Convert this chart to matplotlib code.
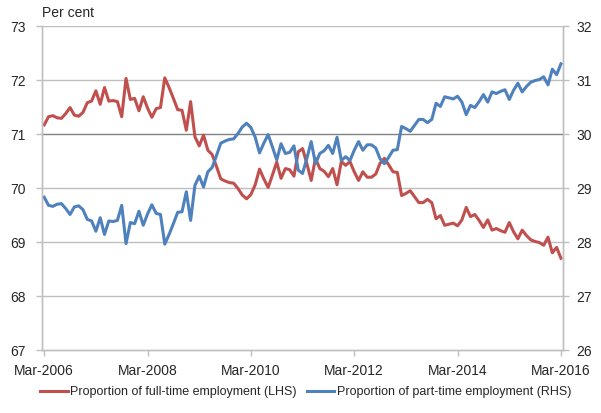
import numpy as np
import matplotlib
matplotlib.use("Agg")
import matplotlib.pyplot as plt

# monthly series, Mar-2006 .. Mar-2016
full_time = [
    71.17, 71.32, 71.34, 71.30, 71.29, 71.38, 71.49, 71.35, 71.33, 71.40,
    71.58, 71.61, 71.80, 71.55, 71.86, 71.61, 71.62, 71.60, 71.32, 72.03,
    71.64, 71.66, 71.43, 71.69, 71.48, 71.31, 71.47, 71.49, 72.04, 71.86,
    71.66, 71.45, 71.44, 71.07, 71.60, 70.95, 70.78, 70.98, 70.70, 70.62,
    70.40, 70.17, 70.13, 70.10, 70.09, 69.99, 69.87, 69.80, 69.88, 70.06,
    70.35, 70.17, 70.01, 70.24, 70.48, 70.18, 70.36, 70.34, 70.22, 70.67,
    70.73, 70.45, 70.14, 70.55, 70.36, 70.31, 70.21, 70.36, 70.06, 70.49,
    70.42, 70.49, 70.30, 70.14, 70.30, 70.20, 70.20, 70.26, 70.46, 70.55,
    70.43, 70.30, 70.29, 69.86, 69.90, 69.95, 69.84, 69.73, 69.73, 69.79,
    69.73, 69.43, 69.49, 69.31, 69.33, 69.35, 69.30, 69.41, 69.64, 69.47,
    69.51, 69.40, 69.27, 69.41, 69.22, 69.25, 69.21, 69.18, 69.36, 69.19,
    69.06, 69.22, 69.12, 69.04, 69.01, 68.99, 68.94, 69.09, 68.80, 68.90,
    68.70,
]
part_time = [
    28.83, 28.68, 28.66, 28.70, 28.71, 28.62, 28.51, 28.65, 28.67, 28.60,
    28.42, 28.39, 28.20, 28.45, 28.14, 28.39, 28.38, 28.40, 28.68, 27.97,
    28.36, 28.34, 28.57, 28.31, 28.52, 28.69, 28.53, 28.51, 27.96, 28.14,
    28.34, 28.55, 28.56, 28.93, 28.40, 29.05, 29.22, 29.02, 29.30, 29.38,
    29.60, 29.83, 29.87, 29.90, 29.91, 30.01, 30.13, 30.20, 30.12, 29.94,
    29.65, 29.83, 29.99, 29.76, 29.52, 29.82, 29.64, 29.66, 29.78, 29.33,
    29.27, 29.55, 29.86, 29.45, 29.64, 29.69, 29.79, 29.64, 29.94, 29.51,
    29.58, 29.51, 29.70, 29.86, 29.70, 29.80, 29.80, 29.74, 29.54, 29.45,
    29.57, 29.70, 29.71, 30.14, 30.10, 30.05, 30.16, 30.27, 30.27, 30.21,
    30.27, 30.57, 30.51, 30.69, 30.67, 30.65, 30.70, 30.59, 30.36, 30.53,
    30.49, 30.60, 30.73, 30.59, 30.78, 30.75, 30.79, 30.82, 30.64, 30.81,
    30.94, 30.78, 30.88, 30.96, 30.99, 31.01, 31.06, 30.91, 31.20, 31.10,
    31.30,
]
tick_labels = ["Mar-2006", "Mar-2008", "Mar-2010", "Mar-2012", "Mar-2014", "Mar-2016"]

plt.rcParams['font.family'] = ['Liberation Sans', 'DejaVu Sans']
plt.rcParams['font.size'] = 10

red = "#C0504D"
blue = "#4F81BD"
grid_c = "#BFBFBF"
txt = "#262626"

fig = plt.figure(figsize=(6.01, 4.13), dpi=100)
ax = fig.add_axes([0.0707, 0.1525, 0.8655, 0.7845])
ax2 = ax.twinx()

x = np.arange(len(full_time))
l1, = ax.plot(x, full_time, color=red, lw=2.2, label="Proportion of full-time employment (LHS)")
l2, = ax2.plot(x, part_time, color=blue, lw=2.2, label="Proportion of part-time employment (RHS)")

ax.set_xlim(-0.4, 120.4)
ax.set_ylim(67, 73)
ax2.set_ylim(26, 32)
ax.set_yticks(range(67, 74))
ax2.set_yticks(range(26, 33))
ax.set_xticks(np.arange(0, 121, 24))
ax.set_xticklabels(tick_labels)

for v in range(68, 74):
    ax.axhline(v, color="#808080" if v == 71 else grid_c, lw=1.0, zorder=0)

for a in (ax, ax2):
    for s in a.spines.values():
        s.set_color(grid_c)
        s.set_linewidth(1.0)
    a.spines['top'].set_visible(False)
    a.tick_params(colors=grid_c, labelcolor=txt, length=4, width=1.0, labelsize=10)
ax.tick_params(axis='x', pad=6)
ax.tick_params(axis='y', pad=8)
ax2.tick_params(axis='y', pad=6)

ax.text(0.0, 1.02, "Per cent", transform=ax.transAxes, ha="left", va="bottom",
        fontsize=10, color=txt)

fig.legend(handles=[l1, l2], loc="center", bbox_to_anchor=(0.509, 0.05), ncol=2,
           frameon=False, handlelength=2.2, handletextpad=0.2, columnspacing=0.8,
           fontsize=9, labelcolor=txt)

fig.savefig("out.png", dpi=100)
